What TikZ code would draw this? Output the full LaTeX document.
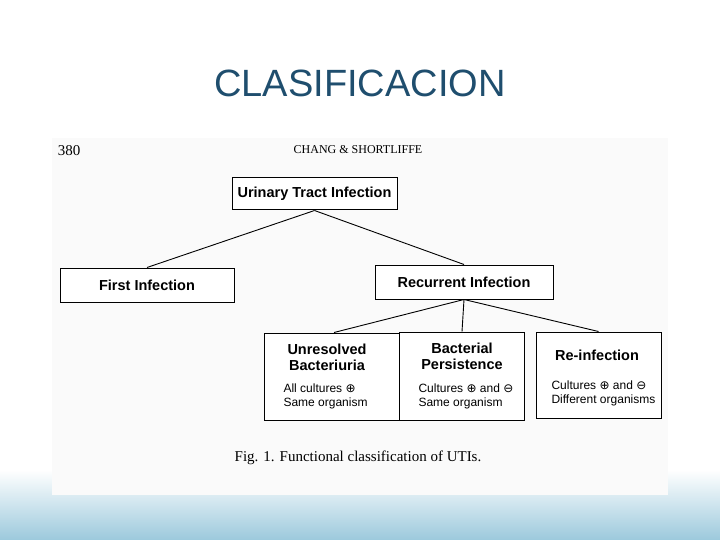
\documentclass[tikz,border=0pt]{standalone}
\usepackage{fontspec}
\setmainfont{Liberation Serif}
\setsansfont{Liberation Sans}
\newfontfamily\symf{DejaVu Sans}
\definecolor{ttl}{HTML}{1F4E6E}
\definecolor{band}{HTML}{9CC9DC}
\begin{document}
\begin{tikzpicture}[x=1pt,y=-1pt,
  box/.style={draw,line width=1pt,fill=white,font=\sffamily\bfseries\fontsize{14.5}{16}\selectfont,align=center,inner sep=0pt},
  hd/.style={font=\sffamily\bfseries\fontsize{14.5}{16}\selectfont,align=center},
  sub/.style={font=\sffamily\fontsize{12}{14}\selectfont,align=left,anchor=west},
  ln/.style={line width=0.9pt}]
\useasboundingbox (0,0) rectangle (720,540);
\fill[white] (0,0) rectangle (720,540);
\shade[top color=white,bottom color=band] (0,470) rectangle (720,540);
\fill[gray!4] (52,138) rectangle (668,495);
\node[text=ttl,font=\sffamily\fontsize{38}{42}\selectfont] (title) at (360,83) {CLASIFICACION};
\node[font=\rmfamily\fontsize{15}{16}\selectfont] (pg) at (69,151) {380};
\node[font=\rmfamily\fontsize{12}{13}\selectfont] (hd) at (358,150) {CHANG \& SHORTLIFFE};
\node[box,minimum width=165pt,minimum height=32pt] (uti) at (314.5,194) {Urinary Tract Infection};
\node[box,minimum width=174pt,minimum height=34pt] (first) at (147,285) {First Infection};
\node[box,minimum width=178pt,minimum height=34pt] (rec) at (464,282) {Recurrent Infection};
\node[box,minimum width=140pt,minimum height=87pt] (unr) at (334,376.5) {};
\node[box,minimum width=125pt,minimum height=88pt] (per) at (462,376) {};
\node[box,minimum width=125pt,minimum height=86pt] (rei) at (598.5,375) {};
\node[hd] (t1) at (327,357) {Unresolved\\Bacteriuria};
\node[hd] (t2) at (462,356) {Bacterial\\Persistence};
\node[hd] (t3) at (597,355) {Re-infection};
\node[sub] (s1) at (280,396) {All cultures {\symf ⊕}\\Same organism};
\node[sub] (s2) at (415,396) {Cultures {\symf ⊕} and {\symf ⊖}\\Same organism};
\node[sub] (s3) at (548,393) {Cultures {\symf ⊕} and {\symf ⊖}\\Different organisms};
\draw[ln] (uti.south) -- (first.north);
\draw[ln] (uti.south) -- (rec.north);
\draw[ln] (rec.south) -- (unr.north);
\draw[ln] (rec.south) -- (per.north);
\draw[ln] (rec.south) -- (rei.north);
\node[font=\rmfamily\fontsize{15}{17}\selectfont] (cap) at (358,458) {Fig. 1. Functional classification of UTIs.};
\end{tikzpicture}
\end{document}
